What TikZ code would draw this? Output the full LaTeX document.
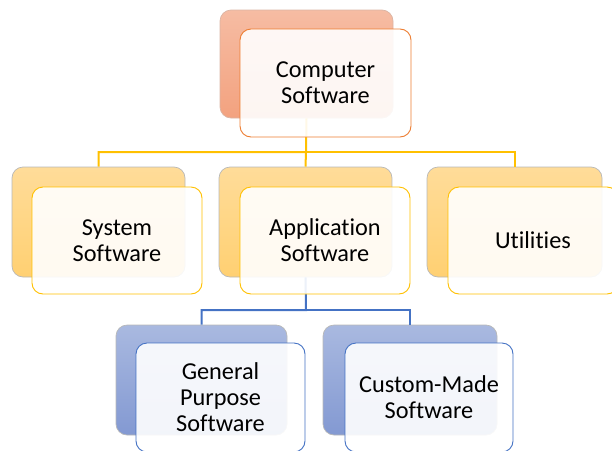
\documentclass[tikz,border=0pt]{standalone}
\usepackage{fontspec}
\setmainfont[Ligatures=NoCommon]{Carlito}
\definecolor{orB}{HTML}{ED7D31}
\definecolor{orT}{HTML}{F6BCA3}
\definecolor{orD}{HTML}{F3A27F}
\definecolor{yeB}{HTML}{FFC000}
\definecolor{yeT}{HTML}{FFDC99}
\definecolor{yeD}{HTML}{FFD072}
\definecolor{blB}{HTML}{4472C4}
\definecolor{blT}{HTML}{A9B9E0}
\definecolor{blD}{HTML}{8399D2}
\tikzset{
  backbox/.style={rectangle, rounded corners=11pt, draw=black!28, line width=0.7pt, inner sep=0pt},
  backO/.style={backbox, top color=orT, bottom color=orD, draw=orD!80!black!60},
  backY/.style={backbox, top color=yeT, bottom color=yeD},
  backU/.style={backbox, top color=blT, bottom color=blD},
  frontbox/.style={rectangle, rounded corners=11pt, fill=white, fill opacity=0.9, text opacity=1, line width=0.9pt, inner sep=0pt, align=center, font=\fontsize{24.3}{26}\selectfont, text=black},
  frontO/.style={frontbox, draw=orB},
  frontY/.style={frontbox, draw=yeB},
  frontU/.style={frontbox, draw=blB},
  linkY/.style={draw=yeB, line width=2pt},
  linkU/.style={draw=blB, line width=2pt},
}
\begin{document}
\begin{tikzpicture}[x=1pt,y=-1pt]
\useasboundingbox (0,0) rectangle (612,450);
% back boxes
\node[backO, minimum width=173pt, minimum height=108pt] (topB) at (306.5,64) {};
\node[backY, minimum width=173pt, minimum height=110pt] (sysB) at (98.5,222) {};
\node[backY, minimum width=173pt, minimum height=110pt] (appB) at (305.5,222) {};
\node[backY, minimum width=175pt, minimum height=110pt] (utlB) at (514.5,222) {};
\node[backU, minimum width=171pt, minimum height=110pt] (genB) at (201.5,380) {};
\node[backU, minimum width=174pt, minimum height=110pt] (cusB) at (410,380) {};
% connectors
\coordinate (j1) at (306,152);
\coordinate (j2) at (306,310);
\draw[linkY] (topB.south) -- (j1) -| (sysB.north);
\draw[linkY] (j1) -- (appB.north);
\draw[linkY] (j1) -| (utlB.north);
\draw[linkU] (appB.south) -- (j2) -| (genB.north);
\draw[linkU] (j2) -| (cusB.north);
% front boxes
\node[frontO, minimum width=171pt, minimum height=108pt] (topF) at (325.5,83) {Computer\\Software};
\node[frontY, minimum width=170pt, minimum height=107pt] (sysF) at (117,240.5) {System\\Software};
\node[frontY, minimum width=170pt, minimum height=107pt] (appF) at (325,240.5) {Application\\Software};
\node[frontY, minimum width=170pt, minimum height=107pt] (utlF) at (533,240.5) {Utilities};
\node[frontU, minimum width=169pt, minimum height=109pt] (genF) at (220.5,397.5) {General\\Purpose\\Software};
\node[frontU, minimum width=168pt, minimum height=109pt] (cusF) at (429,397.5) {Custom-Made\\Software};
\end{tikzpicture}
\end{document}
